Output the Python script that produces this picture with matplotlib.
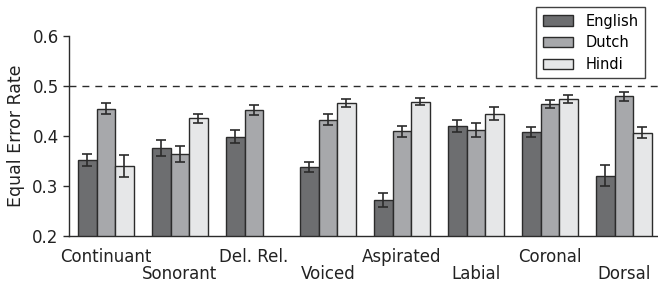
import numpy as np
import matplotlib
matplotlib.use("Agg")
import matplotlib.pyplot as plt

plt.rcParams['font.family'] = ['DejaVu Sans']

categories = ["Continuant", "Sonorant", "Del. Rel.", "Voiced", "Aspirated", "Labial", "Coronal", "Dorsal"]
languages = ["English", "Dutch", "Hindi"]
english = [0.353, 0.377, 0.399, 0.339, 0.273, 0.421, 0.409, 0.321]
english_err = [0.012, 0.016, 0.013, 0.010, 0.014, 0.012, 0.010, 0.021]
dutch = [0.455, 0.364, 0.452, 0.433, 0.410, 0.413, 0.465, 0.480]
dutch_err = [0.011, 0.016, 0.010, 0.011, 0.011, 0.014, 0.008, 0.009]
hindi = [0.340, 0.436, np.nan, 0.467, 0.469, 0.445, 0.475, 0.407]
hindi_err = [0.022, 0.009, np.nan, 0.008, 0.007, 0.013, 0.008, 0.011]

colors = ["#6d6e70", "#a7a8ab", "#e6e7e8"]

fig = plt.figure(figsize=(6.58, 2.82), dpi=100)
ax = fig.add_axes([0.105, 0.163, 0.895, 0.709])

x = np.arange(len(categories))
w = 0.25
series = [(english, english_err), (dutch, dutch_err), (hindi, hindi_err)]
for k, ((vals, errs), lang, c) in enumerate(zip(series, languages, colors)):
    ax.bar(x + k * w, vals, width=w, color=c, edgecolor="#2b2b2b", linewidth=1.0,
           label=lang, zorder=2)
    ax.errorbar(x + k * w, vals, yerr=errs, fmt="none", ecolor="#2b2b2b",
                elinewidth=1.2, capsize=3.3, capthick=1.2, zorder=3)

ax.axhline(0.5, color="#2b2b2b", linestyle=(0, (5, 4.3)), linewidth=1.0, zorder=1)

ax.set_ylim(0.2, 0.6)
ax.set_xlim(-0.247, 7.71)
ax.set_yticks([0.2, 0.3, 0.4, 0.5, 0.6])
ax.set_yticklabels(["0.2", "0.3", "0.4", "0.5", "0.6"], fontsize=12, color="#222222")

even = x[::2]
odd = x[1::2]
ax.set_xticks(even + w)
ax.set_xticklabels(categories[::2], fontsize=12, color="#222222")
ax.set_xticks(odd + w, minor=True)
ax.set_xticklabels(categories[1::2], minor=True, fontsize=12, color="#222222")
ax.tick_params(axis="x", which="major", length=0, pad=8.5)
ax.tick_params(axis="x", which="minor", length=0, pad=21)
ax.tick_params(axis="y", length=4, width=1, direction="out", color="#2b2b2b")
ax.set_ylabel("Equal Error Rate", fontsize=12.5, color="#222222", labelpad=5)
for s in ["top", "right"]:
    ax.spines[s].set_visible(False)
for s in ["left", "bottom"]:
    ax.spines[s].set_color("#2b2b2b")
    ax.spines[s].set_linewidth(1.0)

leg = fig.legend(loc="upper right", bbox_to_anchor=(0.980, 0.975), fontsize=10.5,
                 frameon=True, fancybox=False, edgecolor="#111111",
                 borderaxespad=0.0, handlelength=2.1, handleheight=0.7,
                 handletextpad=0.8, borderpad=0.45, labelspacing=0.45)
leg.get_frame().set_linewidth(1.0)

fig.savefig("out.png", dpi=100)
